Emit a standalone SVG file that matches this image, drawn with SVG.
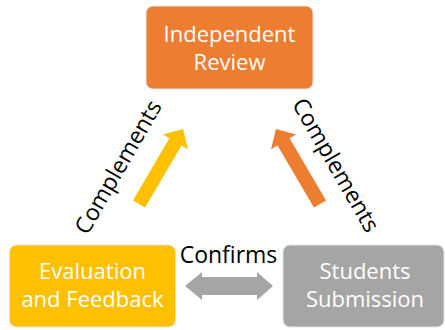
<svg xmlns="http://www.w3.org/2000/svg" width="445" height="330" viewBox="0 0 445 330">
  <style>
    .box { stroke: #e3e3e3; stroke-width: 1; }
    .btxt { font-family: "Open Sans", "Noto Sans", sans-serif; font-size: 22px; fill: #ffffff; text-anchor: middle; }
    .lbl { font-family: "Open Sans", "Noto Sans", sans-serif; font-size: 23px; fill: #000000; text-anchor: middle; }
  </style>
  <defs>
    <polygon id="arrowShape" points="0,-7 72,-7 72,-14.5 87,0 72,14.5 72,7 0,7"/>
  </defs>
  <rect width="445" height="330" fill="#ffffff"/>

  <g id="connectors">
    <g id="edge-eval-review">
      <use href="#arrowShape" fill="#FFC000" transform="translate(139,204) rotate(-59.6)"/>
      <text class="lbl" transform="translate(118,167) rotate(-60)" x="0" y="8">Complements</text>
    </g>
    <g id="edge-students-review">
      <use href="#arrowShape" fill="#ED7D31" transform="translate(320,204) rotate(-120.4)"/>
      <text class="lbl" transform="translate(336,165) rotate(60)" x="0" y="8">Complements</text>
    </g>
    <g id="edge-eval-students">
      <polygon fill="#A5A5A5" points="185,286 202,272 202,277 257,277 257,272 273,286 257,300 257,295 202,295 202,300"/>
      <text class="lbl" x="228.5" y="263">Confirms</text>
    </g>
  </g>

  <g id="node-review">
    <rect class="box" x="146" y="6" width="167" height="83" rx="7" fill="#ED7D31"/>
    <text class="btxt" x="229.5" y="42">Independent</text>
    <text class="btxt" x="229.5" y="70">Review</text>
  </g>

  <g id="node-eval">
    <rect class="box" x="9.5" y="245" width="166" height="82" rx="7" fill="#FFC000"/>
    <text class="btxt" x="92.5" y="279">Evaluation</text>
    <text class="btxt" x="92.5" y="307">and Feedback</text>
  </g>

  <g id="node-students">
    <rect class="box" x="283" y="245" width="161" height="82" rx="7" fill="#A5A5A5"/>
    <text class="btxt" x="365" y="279">Students</text>
    <text class="btxt" x="365" y="307">Submission</text>
  </g>
</svg>
